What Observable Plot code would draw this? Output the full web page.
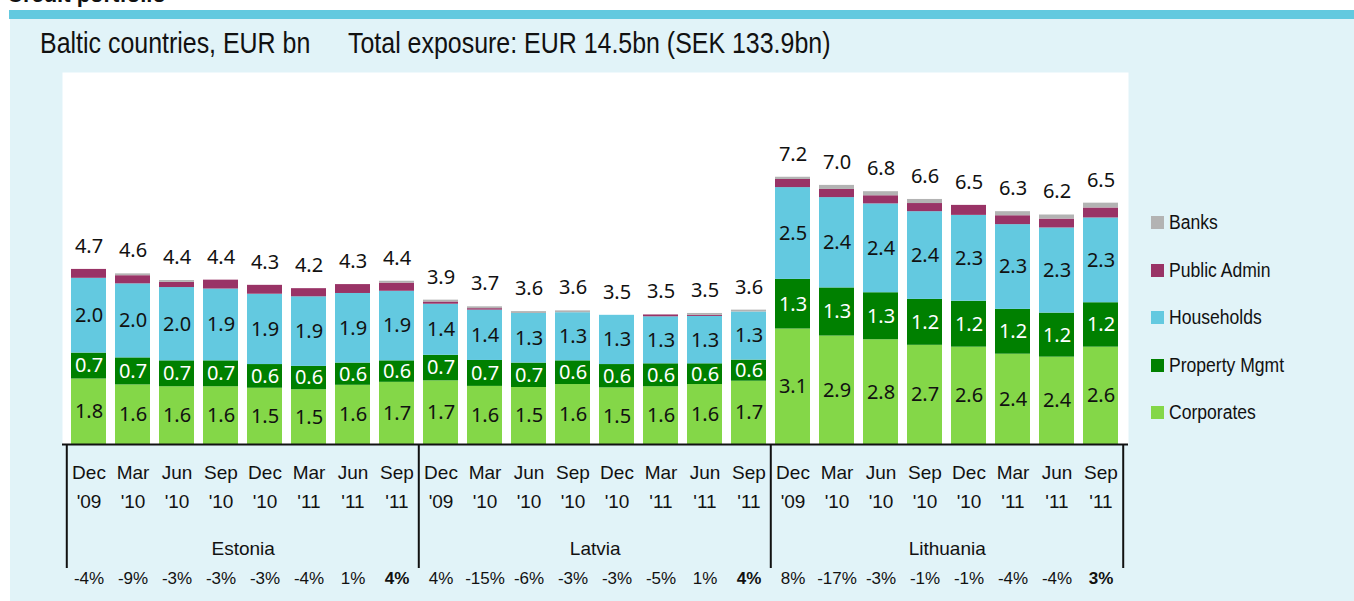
<!DOCTYPE html>
<html>
<head>
<meta charset="utf-8">
<script src="https://cdn.jsdelivr.net/npm/d3@7"></script>
<script src="https://cdn.jsdelivr.net/npm/@observablehq/plot@0.6"></script>
<style>
  body { margin: 0; background: #ffffff; }
  #wrap { position: relative; width: 1354px; height: 601px; overflow: hidden; font-family: "Liberation Sans", Arial, sans-serif; color: #111; }
  #kicker { position: absolute; left: 7px; top: -16px; font-size: 22px; line-height: 22px; font-weight: bold; white-space: nowrap; }
  #band { position: absolute; left: 9px; top: 10px; width: 1345px; height: 9px; background: #63c9df; }
  #panel { position: absolute; left: 10px; top: 19px; width: 1344px; height: 582px; background: #e1f3f8; }
  .title { position: absolute; top: 29px; font-size: 29px; line-height: 29px; white-space: nowrap; transform: scaleX(0.86); transform-origin: 0 0; }
  #chart { position: absolute; left: 0; top: 0; }
  #legend { position: absolute; left: 1151px; top: 199px; font-size: 19.5px; }
  .item { height: 47.5px; white-space: nowrap; display: flex; align-items: center; }
  .sw { width: 13px; height: 13px; margin-right: 5px; display: inline-block; flex: none; }
  .lt { display: inline-block; transform: scaleX(0.9); transform-origin: 0 50%; }
</style>
</head>
<body>
<div id="wrap">
  <div id="kicker">Credit portfolio</div>
  <div id="band"></div>
  <div id="panel"></div>
  <div class="title" style="left:40px">Baltic countries, EUR bn</div>
  <div class="title" style="left:348px">Total exposure: EUR 14.5bn (SEK 133.9bn)</div>
  <div id="chart"></div>
  <div id="legend"></div>
</div>
<script>
// ---- data ----
const countries = ["Estonia", "Latvia", "Lithuania"];
const months = ["Dec", "Mar", "Jun", "Sep", "Dec", "Mar", "Jun", "Sep"];
const years  = ["'09", "'10", "'10", "'10", "'10", "'11", "'11", "'11"];
// stacking order, bottom to top
const sectors = ["Corporates", "Property Mgmt", "Households", "Public Admin", "Banks"];
const colors  = ["#84d748", "#008000", "#63c9e0", "#993366", "#b3b3b3"];

// EUR bn, Estonia (8) | Latvia (8) | Lithuania (8)
const corporates   = [1.77,1.61,1.56,1.56,1.52,1.48,1.60,1.68, 1.72,1.57,1.54,1.62,1.53,1.56,1.62,1.71, 3.12,2.93,2.83,2.68,2.63,2.44,2.36,2.63];
const propertyMgmt = [0.70,0.73,0.70,0.70,0.64,0.63,0.60,0.58, 0.69,0.70,0.66,0.64,0.63,0.62,0.56,0.57, 1.34,1.30,1.27,1.24,1.24,1.21,1.19,1.20];
const households   = [2.02,2.00,1.98,1.94,1.90,1.88,1.88,1.88, 1.38,1.36,1.34,1.30,1.33,1.27,1.28,1.30, 2.48,2.44,2.40,2.37,2.32,2.29,2.30,2.29];
const publicAdmin  = [0.24,0.22,0.14,0.24,0.24,0.22,0.24,0.22, 0.06,0.04,0.00,0.00,0.00,0.05,0.03,0.00, 0.22,0.22,0.22,0.22,0.27,0.24,0.24,0.27];
const banks        = [0.00,0.05,0.05,0.00,0.00,0.00,0.00,0.05, 0.05,0.05,0.05,0.05,0.00,0.00,0.05,0.05, 0.06,0.11,0.11,0.11,0.00,0.11,0.11,0.13];
const growth = ["-4%","-9%","-3%","-3%","-3%","-4%","1%","4%", "4%","-15%","-6%","-3%","-3%","-5%","1%","4%", "8%","-17%","-3%","-1%","-1%","-4%","-4%","3%"];

// ---- build tables ----
const seriesValues = [corporates, propertyMgmt, households, publicAdmin, banks];
const bars = [];
countries.forEach((c, ci) => months.forEach((m, mi) => {
  const i = ci * months.length + mi;
  bars.push({i, key: `${c} ${m} ${years[mi]}`, country: c, month: m, year: years[mi], growth: growth[i], last: mi === months.length - 1, first: mi === 0});
}));
const keys = bars.map(d => d.key);
const rows = [];
bars.forEach(b => sectors.forEach((s, si) => rows.push({key: b.key, sector: s, value: seriesValues[si][b.i]})));
const totals = bars.map(b => ({key: b.key, total: d3.sum(seriesValues, arr => arr[b.i])}));
const fmt = d3.format(".1f");
const labelled = new Set(["Corporates", "Property Mgmt", "Households"]);

// ---- layout ----
const W = 1354, H = 601, mL = 62, mR = 226, mT = 72, mB = 157;
const step = (W - mL - mR) / keys.length;
const frameH = H - mT - mB;
const numFont = "Noto Sans, Liberation Sans, sans-serif";
const lblFont = "Liberation Sans, Arial, sans-serif";
const num = {fontSize: 20, fontFamily: numFont, ariaLabel: "condensed-num"};
const lbl = {fontSize: 19, fontFamily: lblFont, fill: "#111", frameAnchor: "bottom", ariaLabel: "condensed-lbl"};
const pct = {fontSize: 17, fontFamily: lblFont, fill: "#111", frameAnchor: "bottom", ariaLabel: "condensed-pct"};

const chart = Plot.plot({
  width: W, height: H,
  marginLeft: mL, marginRight: mR, marginTop: mT, marginBottom: mB,
  style: {background: "transparent", overflow: "visible"},
  x: {domain: keys, paddingInner: 0.2, paddingOuter: 0.1, axis: null},
  y: {domain: [0, 10.05], axis: null},
  color: {domain: sectors, range: colors},
  marks: [
    Plot.frame({fill: "white", stroke: null}),
    Plot.barY(rows, {x: "key", y: "value", fill: "sector", z: "sector", order: sectors}),
    Plot.text(rows.filter(d => labelled.has(d.sector)), Plot.stackY({
      x: "key", y: "value", z: "sector", order: sectors,
      text: d => fmt(d.value),
      fill: d => d.sector === "Property Mgmt" ? "white" : "#111",
      ...num
    })),
    Plot.text(totals, {x: "key", y: "total", text: d => fmt(d.total), dy: -23, fill: "#111", ...num}),
    Plot.ruleY([0], {stroke: "#111", strokeWidth: 2}),
    // group separators below the axis
    Plot.ruleX(bars.filter(d => d.first), {x: "key", dx: -step / 2, insetTop: frameH, insetBottom: -124, stroke: "#111", strokeWidth: 2}),
    Plot.ruleX(bars.filter(d => d.last && d.country === countries[countries.length - 1]), {x: "key", dx: step / 2, insetTop: frameH, insetBottom: -124, stroke: "#111", strokeWidth: 2}),
    // category labels
    Plot.text(bars, {x: "key", text: "month", dy: 34, ...lbl}),
    Plot.text(bars, {x: "key", text: "year", dy: 63, ...lbl}),
    Plot.text(bars.filter(d => d.i % months.length === months.length / 2 - 1), {x: "key", text: "country", dx: step / 2, dy: 110, ...lbl}),
    Plot.text(bars.filter(d => !d.last), {x: "key", text: "growth", dy: 139, ...pct}),
    Plot.text(bars.filter(d => d.last), {x: "key", text: "growth", dy: 139, fontWeight: "bold", ...pct})
  ]
});
// narrow the label glyphs horizontally, like the condensed face of the original
function condense(sel, k) {
  chart.querySelectorAll(sel).forEach(t => {
    const tr = t.getAttribute("transform") || "";
    t.setAttribute("transform", `${tr} scale(${k},1)`);
  });
}
condense('g[aria-label="condensed-num"] text', 0.87);
condense('g[aria-label="condensed-lbl"] text', 0.88);
condense('g[aria-label="condensed-pct"] text', 0.9);
document.getElementById("chart").appendChild(chart);

// ---- legend (top to bottom = reverse of stack) ----
const legend = document.getElementById("legend");
sectors.map((s, i) => [s, colors[i]]).reverse().forEach(([s, c]) => {
  const row = document.createElement("div");
  row.className = "item";
  row.innerHTML = `<span class="sw" style="background:${c}"></span><span class="lt">${s}</span>`;
  legend.appendChild(row);
});
</script>
</body>
</html>
